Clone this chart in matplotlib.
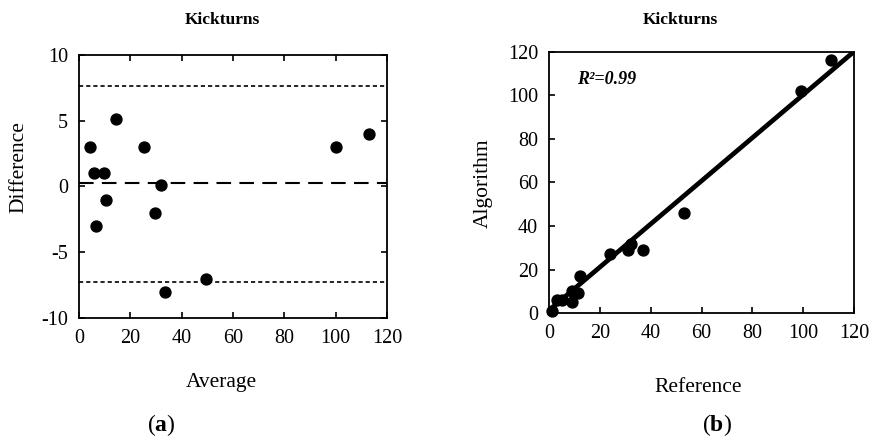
import numpy as np
import matplotlib
matplotlib.use("Agg")
import matplotlib.pyplot as plt

plt.rcParams['font.family'] = ['Liberation Serif', 'DejaVu Serif']
plt.rcParams['axes.unicode_minus'] = False
plt.rcParams['mathtext.fontset'] = 'custom'
plt.rcParams['mathtext.rm'] = 'Liberation Serif'
plt.rcParams['mathtext.bf'] = 'Liberation Serif:bold'
plt.rcParams['mathtext.it'] = 'Liberation Serif:italic'

# Bland-Altman data (panel a)
ba_average = [4.3, 5.8, 9.9, 6.5, 10.4, 14.5, 25.3, 32.0, 29.8, 33.4, 49.6, 100.1, 112.9]
ba_difference = [3, 1, 1, -3, -1, 5.1, 3, 0.1, -2, -8, -7, 3, 4]
ba_mean = 0.27
ba_upper = 7.67
ba_lower = -7.24

# Correlation data (panel b)
ref_vals = [1, 3, 5, 9, 9, 11.5, 12, 24, 31, 32, 37, 53, 99, 111]
alg_vals = [1, 6, 6, 5, 10, 9.5, 17, 27, 29, 32, 29, 46, 102, 116]
fit_x = [0, 120]
fit_y = [1.5, 120]

W, H = 869, 443
fig = plt.figure(figsize=(W / 100, H / 100), dpi=100)

ax1 = fig.add_axes([0.0909, 0.2822, 0.3544, 0.5937])
ax2 = fig.add_axes([0.6321, 0.2928, 0.3506, 0.5907])

tick_fs = 14.5
label_fs = 15.5

def ftext(x, y, s, **kw):
    return fig.text(x / W, 1 - y / H, s, ha='center', va='center', **kw)

# Panel a
ax1.axhline(ba_upper, color='black', lw=1.2, ls=(0, (2.5, 1.8)))
ax1.axhline(ba_lower, color='black', lw=1.2, ls=(0, (2.5, 1.8)))
ax1.axhline(ba_mean, color='black', lw=1.5, ls=(0, (7, 4)))
ax1.scatter(ba_average, ba_difference, s=62, color='black', zorder=3, clip_on=False)
ax1.set_xlim(0, 120)
ax1.set_ylim(-10, 10)
ax1.set_xticks(range(0, 121, 20))
ax1.set_yticks([-10, -5, 0, 5, 10])
ax1.tick_params(direction='in', top=True, right=True, length=4, width=1.2,
                labelsize=tick_fs, pad=8)

# Panel b
ax2.plot(fit_x, fit_y, color='black', lw=3.4, zorder=2)
ax2.scatter(ref_vals, alg_vals, s=62, color='black', zorder=3, clip_on=False)
ax2.set_xlim(0, 120)
ax2.set_ylim(0, 120)
ax2.set_xticks(range(0, 121, 20))
ax2.set_yticks(range(0, 121, 20))
ax2.tick_params(direction='in', length=4, width=1.2, labelsize=tick_fs, pad=8)
ax2.text(0.09, 0.895, 'R\u00b2=0.99', transform=ax2.transAxes,
         fontsize=13, fontweight='bold', fontstyle='italic', va='center')

for ax in (ax1, ax2):
    for sp in ax.spines.values():
        sp.set_linewidth(1.3)

# Titles and labels
ftext(222, 20, 'Kickturns', fontsize=12.5, fontweight='bold')
ftext(680, 20, 'Kickturns', fontsize=12.5, fontweight='bold')
ftext(221, 382, 'Average', fontsize=label_fs)
ftext(698, 388, 'Reference', fontsize=label_fs)
ftext(19, 167, 'Difference', fontsize=label_fs, rotation=90)
ftext(483, 183, 'Algorithm', fontsize=label_fs, rotation=90)
ftext(161, 425, r'($\mathbf{a}$)', fontsize=17)
ftext(717, 425, r'($\mathbf{b}$)', fontsize=17)

fig.savefig('out.png', dpi=100)
